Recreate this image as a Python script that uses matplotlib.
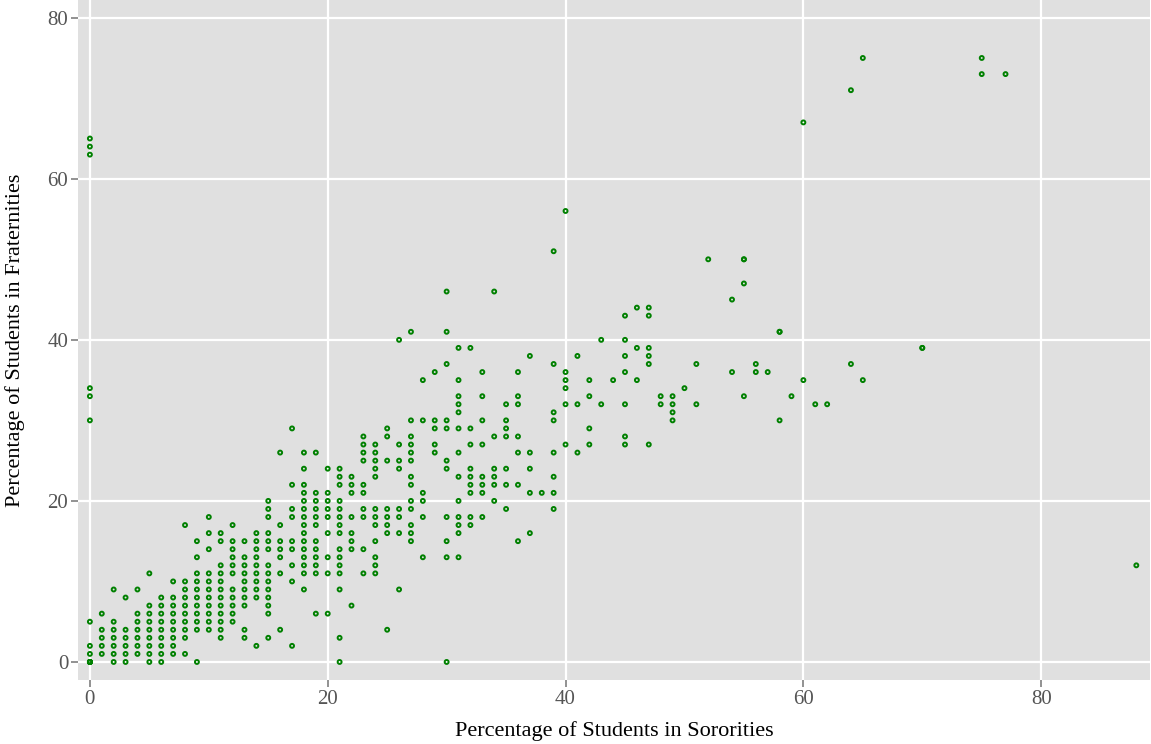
import matplotlib
matplotlib.use("Agg")
import matplotlib.pyplot as plt
import numpy as np

# Percentage in sororities (x) and, for each, the fraternity percentages seen (y)
sorority_pct = [0, 1, 2, 3, 4, 5, 6, 7, 8, 9, 10, 11, 12, 13, 14, 15, 16, 17, 18, 19,
                20, 21, 22, 23, 24, 25, 26, 27, 28, 29, 30, 31, 32, 33, 34, 35, 36, 37,
                38, 39, 40, 41, 42, 43, 44, 45, 46, 47, 48, 49, 50, 51, 52, 54, 55, 56,
                57, 58, 59, 60, 61, 62, 64, 65, 70, 75, 77, 88]
fraternity_pct = [
    [0, 1, 2, 5, 30, 33, 34, 63, 64, 65],
    [1, 2, 3, 4, 6],
    [0, 1, 2, 3, 4, 5, 9],
    [0, 1, 2, 3, 4, 8],
    [1, 2, 3, 4, 5, 6, 9],
    [0, 1, 2, 3, 4, 5, 6, 7, 11],
    [0, 1, 2, 3, 4, 5, 6, 7, 8],
    [1, 2, 3, 4, 5, 6, 7, 8, 10],
    [1, 3, 4, 5, 6, 7, 8, 9, 10, 17],
    [0, 4, 5, 6, 7, 8, 9, 10, 11, 13, 15],
    [4, 5, 6, 7, 8, 9, 10, 11, 14, 16, 18],
    [3, 4, 5, 6, 7, 8, 9, 10, 11, 12, 15, 16],
    [5, 6, 7, 8, 9, 11, 12, 13, 14, 15, 17],
    [3, 4, 7, 8, 9, 10, 11, 12, 13, 15],
    [2, 8, 9, 10, 11, 12, 13, 14, 15, 16],
    [3, 6, 7, 8, 9, 10, 11, 12, 14, 15, 16, 18, 19, 20],
    [4, 11, 13, 14, 15, 17, 26],
    [2, 10, 12, 14, 15, 18, 19, 22, 29],
    [9, 11, 12, 13, 14, 15, 16, 17, 18, 19, 20, 21, 22, 24, 26],
    [6, 11, 12, 13, 14, 15, 17, 18, 19, 20, 21, 26],
    [6, 11, 13, 16, 18, 19, 20, 21, 24],
    [0, 3, 9, 11, 12, 13, 14, 16, 17, 18, 19, 20, 22, 23, 24],
    [7, 14, 15, 16, 18, 21, 22, 23],
    [11, 14, 18, 19, 21, 22, 25, 26, 27, 28],
    [11, 12, 13, 15, 17, 18, 19, 23, 24, 25, 26, 27],
    [4, 16, 17, 18, 19, 25, 28, 29],
    [9, 16, 18, 19, 24, 25, 27, 40],
    [15, 16, 17, 19, 20, 22, 23, 25, 26, 27, 28, 30, 41],
    [13, 18, 20, 21, 30, 35],
    [26, 27, 29, 30, 36],
    [0, 13, 15, 18, 24, 25, 29, 30, 37, 41, 46],
    [13, 16, 17, 18, 20, 23, 26, 29, 31, 32, 33, 35, 39],
    [17, 18, 21, 22, 23, 24, 27, 29, 39],
    [18, 21, 22, 23, 27, 30, 33, 36],
    [20, 22, 23, 24, 28, 46],
    [19, 22, 24, 28, 29, 30, 32],
    [15, 22, 26, 28, 32, 33, 36],
    [16, 21, 24, 26, 38],
    [21],
    [19, 21, 23, 26, 30, 31, 37, 51],
    [27, 32, 34, 35, 36, 56],
    [26, 32, 38],
    [27, 29, 33, 35],
    [32, 40],
    [35],
    [27, 28, 32, 36, 38, 40, 43],
    [35, 39, 44],
    [27, 37, 38, 39, 43, 44],
    [32, 33],
    [30, 31, 32, 33],
    [34],
    [32, 37],
    [50],
    [36, 45],
    [33, 47, 50, 50],
    [36, 37],
    [36],
    [30, 41, 41],
    [33],
    [35, 67],
    [32],
    [32],
    [37, 71],
    [35, 75],
    [39, 39],
    [73, 75],
    [73],
    [12],
]
# schools stacked at the origin (drawn as a solid blob)
origin_repeats = 6

xs = []
ys = []
for s, fr in zip(sorority_pct, fraternity_pct):
    xs += [s] * len(fr)
    ys += fr
xs += [0] * origin_repeats
ys += [0] * origin_repeats
xs = np.array(xs)
ys = np.array(ys)

plt.rcParams['font.family'] = ['Liberation Serif', 'DejaVu Serif']

fig = plt.figure(figsize=(11.51, 7.44), dpi=100)
ax = fig.add_axes([78 / 1151, 1 - 680 / 744, 1072 / 1151, 680 / 744])
ax.set_facecolor('#e0e0e0')

ax.scatter(xs, ys, s=8, facecolors='none', edgecolors='#008000', linewidths=1.4, zorder=3)

ax.set_xlim(-1.0, 89.15)
ax.set_ylim(-2.24, 82.2)
ax.set_xticks([0, 20, 40, 60, 80])
ax.set_yticks([0, 20, 40, 60, 80])
ax.grid(True, color='white', linewidth=1.6)
ax.set_axisbelow(True)
for sp in ax.spines.values():
    sp.set_visible(False)
ax.tick_params(colors='#7f7f7f', labelcolor='#555555', labelsize=15, length=5, width=1.2, pad=2)

ax.set_xlabel('Percentage of Students in Sororities', fontsize=16, labelpad=9)
ax.set_ylabel('Percentage of Students in Fraternities', fontsize=16, labelpad=16)

fig.savefig('out.png', dpi=100)
